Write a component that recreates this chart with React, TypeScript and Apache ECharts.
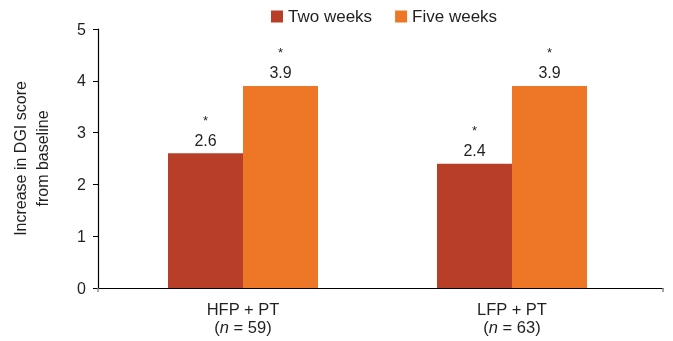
import React, { useEffect, useRef } from "react";
import * as echarts from "echarts";

// Treatment groups and their sample sizes
const groups = ["HFP + PT", "LFP + PT"];
const sampleSizes = [59, 63];

// Mean increase in DGI score from baseline
const twoWeeks = [2.6, 2.4];
const fiveWeeks = [3.9, 3.9];

// Significance markers above each bar
const twoWeeksSig = [true, true];
const fiveWeeksSig = [true, true];

const seriesNames = ["Two weeks", "Five weeks"];
const yTicks = [0, 1, 2, 3, 4, 5];

const FONT = "'Liberation Sans', Arial, Helvetica, sans-serif";
const TEXT = "#231f20";
const RED = "#b93e28";
const ORANGE = "#ee7627";

export default function App() {
  const ref = useRef<HTMLDivElement>(null);

  useEffect(() => {
    if (!ref.current) return;
    const chart = echarts.init(ref.current, undefined, { renderer: "svg" });

    const valueLabel = (sig: boolean[]) => ({
      show: true,
      position: "top" as const,
      distance: 4,
      formatter: (p: any) =>
        (sig[p.dataIndex] ? "{s|*}\n" : "") + "{v|" + p.value.toFixed(1) + "}",
      rich: {
        s: { fontSize: 13, lineHeight: 22, color: TEXT, fontFamily: FONT, align: "center" },
        v: { fontSize: 16, lineHeight: 18, color: TEXT, fontFamily: FONT, align: "center" },
      },
    });

    chart.setOption({
      animation: false,
      textStyle: { fontFamily: FONT },
      legend: {
        data: seriesNames,
        left: 266,
        top: 3,
        itemWidth: 12,
        itemHeight: 12,
        itemGap: 23,
        icon: "rect",
        textStyle: { fontSize: 17, color: TEXT, fontFamily: FONT },
      },
      grid: [
        { left: 108.5, right: 26.5, top: 29, bottom: 53, containLabel: false },
        { left: 98, right: 10, top: 29, bottom: 53, containLabel: false },
      ],
      xAxis: [
        {
          type: "category",
          gridIndex: 0,
          data: groups,
          axisLine: { show: false },
          axisTick: { show: false },
          axisLabel: {
            margin: 12,
            lineHeight: 18,
            fontSize: 16.5,
            color: TEXT,
            fontFamily: FONT,
            formatter: (v: string, i: number) => `${v}\n({i|n} = ${sampleSizes[i]})`,
            rich: {
              i: { fontStyle: "italic", fontSize: 16.5, color: TEXT, fontFamily: FONT, lineHeight: 18 },
            },
          },
        },
        {
          type: "value",
          gridIndex: 1,
          min: 0,
          max: 1,
          interval: 1,
          axisLine: { show: true, lineStyle: { color: "#000", width: 1.2 } },
          axisTick: { show: true, length: 4, lineStyle: { color: "#888", width: 1.5 } },
          axisLabel: { show: false },
          splitLine: { show: false },
        },
      ],
      yAxis: [
        {
          type: "value",
          gridIndex: 0,
          min: 0,
          max: 5,
          interval: 1,
          offset: 10.5,
          name: "Increase in DGI score\nfrom baseline",
          nameLocation: "middle",
          nameGap: 45,
          nameTextStyle: { fontSize: 16, lineHeight: 22, color: TEXT, fontFamily: FONT },
          axisLine: { show: true, lineStyle: { color: "#000", width: 1.2 } },
          axisTick: { show: true, length: 5, lineStyle: { color: "#000" } },
          axisLabel: {
            margin: 12,
            fontSize: 16,
            color: TEXT,
            fontFamily: FONT,
            formatter: (v: number) => (yTicks.includes(v) ? String(v) : ""),
          },
          splitLine: { show: false },
        },
        {
          type: "value",
          gridIndex: 1,
          min: 0,
          max: 5,
          show: false,
        },
      ],
      series: [
        {
          name: seriesNames[0],
          type: "bar",
          xAxisIndex: 0,
          yAxisIndex: 0,
          data: twoWeeks,
          barWidth: 75,
          barGap: "0%",
          itemStyle: { color: RED },
          label: valueLabel(twoWeeksSig),
        },
        {
          name: seriesNames[1],
          type: "bar",
          xAxisIndex: 0,
          yAxisIndex: 0,
          data: fiveWeeks,
          barWidth: 75,
          barGap: "0%",
          itemStyle: { color: ORANGE },
          label: valueLabel(fiveWeeksSig),
        },
      ],
    });

    return () => chart.dispose();
  }, []);

  return (
    <div
      ref={ref}
      style={{ position: "fixed", left: 0, top: 0, width: 673, height: 341 }}
    />
  );
}
